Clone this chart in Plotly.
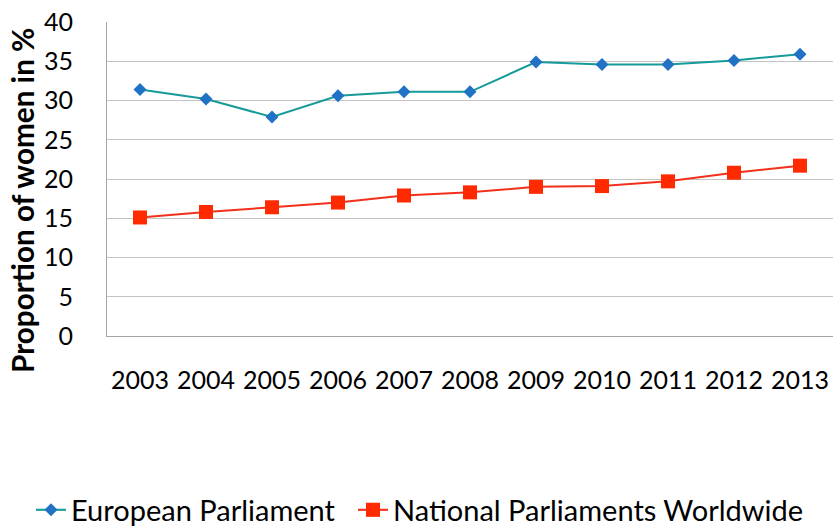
import plotly.graph_objects as go

years = ["2003", "2004", "2005", "2006", "2007", "2008",
         "2009", "2010", "2011", "2012", "2013"]
european_parliament = [31.4, 30.2, 27.9, 30.6, 31.1, 31.1,
                       34.9, 34.6, 34.6, 35.1, 35.9]
national_parliaments = [15.1, 15.8, 16.4, 17.0, 17.9, 18.3,
                        19.0, 19.1, 19.7, 20.8, 21.7]
y_ticks = [0, 5, 10, 15, 20, 25, 30, 35, 40]

FONT = "Lato"
W, H = 833, 527
M_L, M_R, M_T, M_B = 107, 0, 22, 191
PLOT_W, PLOT_H = W - M_L - M_R, H - M_T - M_B

fig = go.Figure()
fig.add_trace(go.Scatter(
    x=years, y=european_parliament, name="European Parliament",
    mode="lines+markers", legend="legend",
    line=dict(color="#169a9a", width=2),
    marker=dict(symbol="diamond", size=10, color="#1f72c4",
                line=dict(width=0)),
))
fig.add_trace(go.Scatter(
    x=years, y=national_parliaments, name="National Parliaments Worldwide",
    mode="lines+markers", legend="legend2",
    line=dict(color="#f2301c", width=2),
    marker=dict(symbol="square", size=14, color="#ff2a00",
                line=dict(width=0)),
))

legend_style = dict(
    orientation="h", xref="container", yref="container",
    y=17 / H, xanchor="left", yanchor="middle",
    font=dict(family=FONT, size=29, color="black"),
    bgcolor="rgba(0,0,0,0)", borderwidth=0,
)

fig.update_layout(
    width=W, height=H,
    margin=dict(l=M_L, r=M_R, t=M_T, b=M_B),
    paper_bgcolor="white", plot_bgcolor="white",
    font=dict(family=FONT, color="black"),
    showlegend=True,
    legend=dict(legend_style, x=31 / W),
    legend2=dict(legend_style, x=353 / W),
)

# rotated y-axis title, sitting a little below the plot's vertical centre
fig.add_annotation(
    text="<b>Proportion of women in %</b>",
    xref="paper", yref="paper",
    x=(22 - M_L) / PLOT_W, y=(M_T + PLOT_H - 201) / PLOT_H,
    xanchor="center", yanchor="middle", textangle=-90, showarrow=False,
    font=dict(family=FONT, size=29.7, color="black"),
)

fig.update_xaxes(
    type="category", range=[-0.5, 10.5],
    showgrid=False, showline=True, linecolor="#a6a6a6", linewidth=1,
    ticks="", tickangle=0,
    tickfont=dict(family=FONT, size=25, color="black"),
    ticklabelstandoff=22,
)
fig.update_yaxes(
    range=[0, 40], tickvals=y_ticks,
    showgrid=True, gridcolor="#c4c4c4", gridwidth=1,
    showline=True, linecolor="#a6a6a6", linewidth=1,
    zeroline=False, ticks="",
    tickfont=dict(family=FONT, size=25, color="black"),
    ticklabelstandoff=28,
)

fig.write_html("out.html")
